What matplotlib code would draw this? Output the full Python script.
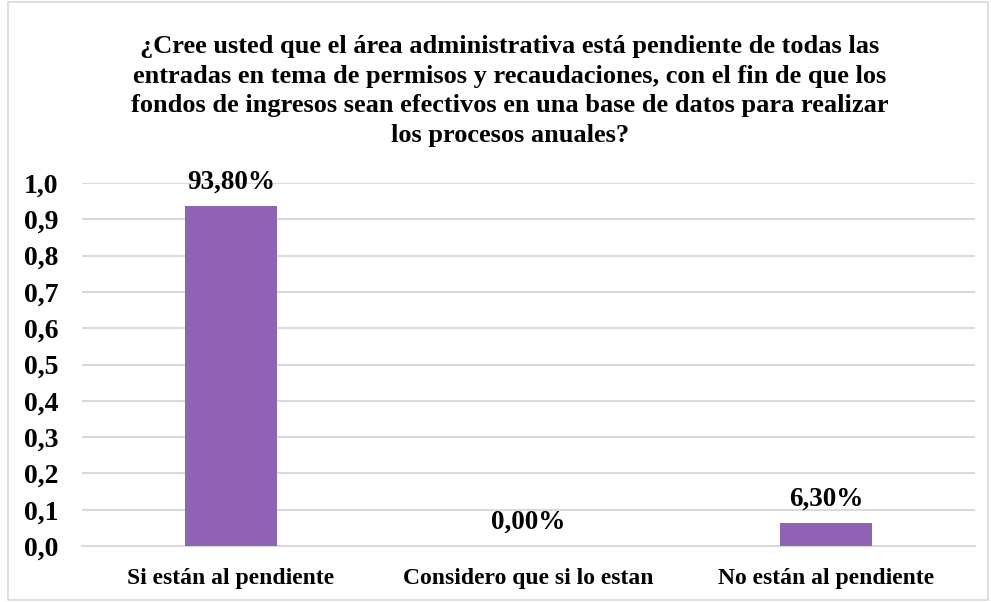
import matplotlib.pyplot as plt
from matplotlib.patches import Rectangle

categorias = ['Si están al pendiente', 'Considero que si lo estan', 'No están al pendiente']
valores = [0.938, 0.0, 0.063]
etiquetas = ['93,80%', '0,00%', '6,30%']
ticks_y = [0.0, 0.1, 0.2, 0.3, 0.4, 0.5, 0.6, 0.7, 0.8, 0.9, 1.0]
titulo = ('¿Cree usted que el área administrativa está pendiente de todas las\n'
          'entradas en tema de permisos y recaudaciones, con el fin de que los\n'
          'fondos de ingresos sean efectivos en una base de datos para realizar\n'
          'los procesos anuales?')

plt.rcParams['font.family'] = ['Liberation Serif', 'DejaVu Serif']
plt.rcParams['font.weight'] = 'bold'

fig = plt.figure(figsize=(9.91, 6.02), dpi=100)
ax = fig.add_axes([82 / 991, 1 - 546 / 602, (975 - 82) / 991, (546 - 183) / 602])

x = range(len(categorias))
ax.bar(x, valores, width=0.31, color='#9062B4', zorder=3)

# Etiquetas de datos sobre cada barra
for xi, v, t in zip(x, valores, etiquetas):
    ax.annotate(t, (xi, v), xytext=(0, 8), textcoords='offset points',
                ha='center', va='bottom', fontsize=19.5, fontweight='bold',
                annotation_clip=False)

ax.set_xlim(-0.5, 2.5)
ax.set_ylim(0, 1.0)
ax.set_yticks(ticks_y)
ax.set_yticklabels([f'{t:.1f}'.replace('.', ',') for t in ticks_y], fontsize=20, fontweight='bold')
ax.set_xticks(list(x))
ax.set_xticklabels(categorias, fontsize=17, fontweight='bold')
ax.tick_params(axis='both', length=0)
ax.tick_params(axis='x', pad=16)
ax.tick_params(axis='y', pad=17)

ax.grid(axis='y', color='#d9d9d9', linewidth=1.5, zorder=0)
ax.set_axisbelow(True)
for s in ['top', 'right', 'left']:
    ax.spines[s].set_visible(False)
ax.spines['bottom'].set_color('#d9d9d9')
ax.spines['bottom'].set_linewidth(1.5)

fig.text(510 / 991, 1 - 91 / 602, titulo, ha='center', va='center',
         fontsize=19, fontweight='bold', linespacing=1.36)

# Borde del gráfico
fig.patches.append(Rectangle((8 / 991, 0.003), 1 - 8 / 991 - 0.003, 0.994,
                             transform=fig.transFigure, fill=False,
                             edgecolor='#d9d9d9', linewidth=1.2))

fig.savefig('out.png', dpi=100)
